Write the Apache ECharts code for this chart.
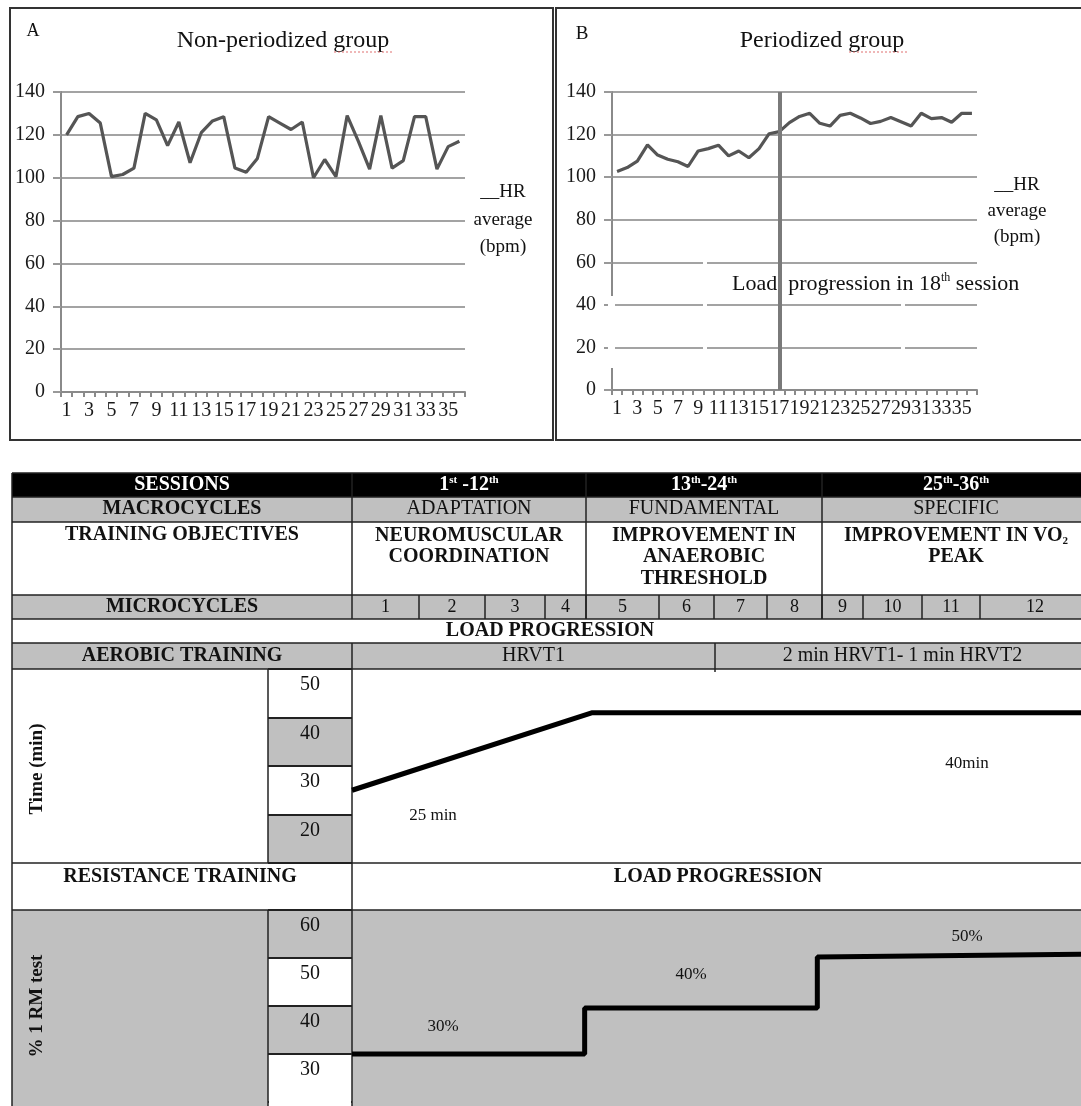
<!DOCTYPE html>
<html>
<head>
<meta charset="utf-8">
<script src="https://cdn.jsdelivr.net/npm/echarts@6/dist/echarts.min.js"></script>
<style>
  html, body { margin: 0; padding: 0; background: #fff; }
  #chart { width: 1081px; height: 1106px; }
</style>
</head>
<body>
<div id="chart"></div>
<script>
// ── Data ─────────────────────────────────────────────────────────────────────
const sessions = ['1','2','3','4','5','6','7','8','9','10','11','12','13','14','15','16','17','18',
                  '19','20','21','22','23','24','25','26','27','28','29','30','31','32','33','34','35','36'];
const hrNonPeriodized = [120, 128.5, 130, 125.5, 100.5, 101.5, 104.5, 130, 127, 115, 126, 107,
                         121, 126.5, 128.5, 104.5, 102.5, 109, 128.5, 125.5, 122.5, 126, 100, 108.5,
                         100.5, 129, 117, 104, 129, 104.5, 108, 128.5, 128.5, 104, 114.5, 117];
const hrPeriodized = [102.7, 104.5, 107.5, 115.2, 110.4, 108.4, 107.2, 105, 112.3, 113.4, 115, 110,
                      112.3, 109.1, 113.4, 120.4, 121.4, 125.6, 128.5, 130, 125.3, 124, 129, 130,
                      127.8, 125.2, 126.2, 128, 126, 124, 130, 127.5, 128, 125.8, 130, 130];
const loadChangeSession = '17';

const sessionRanges = [['1', 'st', ' -12', 'th'], ['13', 'th', '-24', 'th'], ['25', 'th', '-36', 'th']];
const macrocycles = ['ADAPTATION', 'FUNDAMENTAL', 'SPECIFIC'];
const objectives = [
  '{m|NEUROMUSCULAR}\n{m|COORDINATION}',
  '{m|IMPROVEMENT IN}\n{m|ANAEROBIC}\n{m|THRESHOLD}',
  '{m|IMPROVEMENT IN VO}{u|2}\n{m|PEAK}'
];
const microcycles = ['1','2','3','4','5','6','7','8','9','10','11','12'];
const aerobicIntensity = ['HRVT1', '2 min HRVT1- 1 min HRVT2'];

// session (x) , minutes (y)
const aerobicTime = [[0, 25], [12.4, 41], [37.6, 41]];
const aerobicNotes = ['25 min', '40min'];
// session (x) , % 1RM (y)
const resistanceLoad = [[0, 30], [12, 30], [12, 39.6], [24, 39.6], [24, 50.2], [37.6, 50.8]];
const resistanceNotes = ['30%', '40%', '50%'];

// ── Layout ───────────────────────────────────────────────────────────────────
const FONT = 'Liberation Serif';
const GRAY = '#c0c0c0';
const X0 = 12, XL = 268, XS = 352, XE = 1090;
const macroX = [352, 586, 822, 1090];
const microX = [352, 419, 485, 545, 586, 659, 714, 767, 822, 863, 922, 980, 1090];
const intensityX = [352, 715, 1090];
const R = { head: 473, macro: 497, obj: 522, micro: 595, load: 619, aer: 643, time: 669, res: 863, pct: 910, end: 1108 };

function T(x, y, text, o = {}) {
  return {
    type: 'text', x: x, y: y, z: o.z || 20, rotation: o.rot || 0,
    style: {
      text: text, fill: o.color || '#111', fontFamily: FONT,
      fontSize: o.size || 20, fontWeight: o.bold ? 'bold' : 'normal',
      align: o.align || 'center', verticalAlign: o.va || 'middle',
      lineHeight: o.lh, rich: o.rich
    }
  };
}
function box(x, y, w, h, fill, z) {
  return { type: 'rect', z: z == null ? -5 : z, shape: { x: x, y: y, width: w, height: h }, style: { fill: fill } };
}
function ln(x1, y1, x2, y2, w, c, z) {
  return { type: 'line', z: z || 10, shape: { x1: x1, y1: y1, x2: x2, y2: y2 },
           style: { stroke: c || '#222', lineWidth: w || 1.5 } };
}
const mid = (a, i) => (a[i] + a[i + 1]) / 2;

const g = [];
// panels
g.push({ type: 'rect', z: 10, shape: { x: 10, y: 8, width: 543, height: 432 }, style: { fill: null, stroke: '#333', lineWidth: 2 } });
g.push({ type: 'rect', z: 10, shape: { x: 556, y: 8, width: 540, height: 432 }, style: { fill: null, stroke: '#333', lineWidth: 2 } });
g.push(T(33, 31, 'A', { size: 18 }));
g.push(T(283, 41, 'Non-periodized group', { size: 24 }));
g.push(T(582, 34, 'B', { size: 19 }));
g.push(T(822, 41, 'Periodized group', { size: 24 }));
g.push({ type: 'line', z: 21, shape: { x1: 334, y1: 52, x2: 393, y2: 52 }, style: { stroke: '#e07070', lineWidth: 1, lineDash: [2, 2] } });
g.push({ type: 'line', z: 21, shape: { x1: 849, y1: 52, x2: 908, y2: 52 }, style: { stroke: '#e07070', lineWidth: 1, lineDash: [2, 2] } });
[['__HR', 192], ['average', 220], ['(bpm)', 247]].forEach(d => g.push(T(503, d[1], d[0], { size: 19 })));
[['__HR', 185], ['average', 211], ['(bpm)', 237]].forEach(d => g.push(T(1017, d[1], d[0], { size: 19 })));
// text box artefacts in panel B
g.push(box(608, 296, 7, 72, '#fff', 5));
g.push(box(703, 258, 4, 96, '#fff', 5));
g.push(box(901, 300, 4, 54, '#fff', 5));
g.push(T(732, 284, '{n|Load  progression in 18}{s|th}{n| session}', {
  align: 'left', z: 6,
  rich: { n: { fontFamily: FONT, fontSize: 22, lineHeight: 24, fill: '#111' },
          s: { fontFamily: FONT, fontSize: 12, lineHeight: 24, fill: '#111', verticalAlign: 'top' } }
}));

// table backgrounds
g.push(box(X0, R.head, XE - X0, R.macro - R.head, '#000'));
g.push(box(X0, R.macro, XE - X0, R.obj - R.macro, GRAY));
g.push(box(X0, R.micro, XE - X0, R.load - R.micro, GRAY));
g.push(box(X0, R.aer, XE - X0, R.time - R.aer, GRAY));
g.push(box(X0, R.pct, XL - X0, R.end - R.pct, GRAY));
g.push(box(XS, R.pct, XE - XS, R.end - R.pct, GRAY));
g.push(box(XL + 1, R.end - 7, XS - XL - 2, 8, '#fff', 8));

// table rules
[R.head, R.macro, R.obj, R.micro, R.load, R.aer, R.time, R.res, R.pct].forEach(y => g.push(ln(X0, y, XE, y)));
g.push(ln(X0, R.head, X0, R.end));
g.push(ln(XS, R.head, XS, R.load));
g.push(ln(XS, R.aer, XS, R.end));
macroX.slice(1, -1).forEach(x => g.push(ln(x, R.head, x, R.load)));
microX.slice(1, -1).forEach(x => g.push(ln(x, R.micro, x, R.load)));
g.push(ln(intensityX[1], R.aer, intensityX[1], R.time + 3));
g.push(ln(XL, R.time, XL, R.res));
g.push(ln(XL, R.pct, XL, R.end));

// table texts
const hdRich = {
  b: { fontFamily: FONT, fontSize: 20, fontWeight: 'bold', fill: '#fff', lineHeight: 20 },
  s: { fontFamily: FONT, fontSize: 11, fontWeight: 'bold', fill: '#fff', lineHeight: 20, verticalAlign: 'top' }
};
g.push(T(182, 485, 'SESSIONS', { bold: true, color: '#fff' }));
sessionRanges.forEach((r, i) => g.push(T(mid(macroX, i), 485, `{b|${r[0]}}{s|${r[1]}}{b|${r[2]}}{s|${r[3]}}`, { rich: hdRich })));
g.push(T(182, 509, 'MACROCYCLES', { bold: true }));
macrocycles.forEach((m, i) => g.push(T(mid(macroX, i), 509, m)));
g.push(T(182, 535, 'TRAINING OBJECTIVES', { bold: true }));
const objRich = {
  m: { fontFamily: FONT, fontSize: 20, fontWeight: 'bold', lineHeight: 21.5, fill: '#111' },
  u: { fontFamily: FONT, fontSize: 11, fontWeight: 'bold', lineHeight: 21.5, fill: '#111', verticalAlign: 'bottom' }
};
objectives.forEach((o, i) => g.push(T(mid(macroX, i), 525, o, { va: 'top', rich: objRich })));
g.push(T(182, 607, 'MICROCYCLES', { bold: true }));
microcycles.forEach((m, i) => g.push(T(mid(microX, i), 607, m, { size: 18 })));
g.push(T(550, 631, 'LOAD PROGRESSION', { bold: true }));
g.push(T(182, 656, 'AEROBIC TRAINING', { bold: true }));
aerobicIntensity.forEach((a, i) => g.push(T(mid(intensityX, i), 656, a)));
g.push(T(37, 769, 'Time (min)', { bold: true, size: 19, rot: Math.PI / 2 }));
g.push(T(180, 877, 'RESISTANCE TRAINING', { bold: true }));
g.push(T(718, 877, 'LOAD PROGRESSION', { bold: true }));
g.push(T(37, 1006, '% 1 RM test', { bold: true, size: 19, rot: Math.PI / 2 }));
g.push(T(433, 816, aerobicNotes[0], { size: 17 }));
g.push(T(967, 764, aerobicNotes[1], { size: 17 }));
g.push(T(443, 1027, resistanceNotes[0], { size: 17 }));
g.push(T(691, 975, resistanceNotes[1], { size: 17 }));
g.push(T(967, 937, resistanceNotes[2], { size: 17 }));

// ── Axes ─────────────────────────────────────────────────────────────────────
const axisGray = '#8a8a8a';
const hrX = (grid) => ({
  type: 'category', gridIndex: grid, data: sessions, boundaryGap: true,
  axisLine: { lineStyle: { color: axisGray, width: 2 } },
  axisTick: { show: true, interval: 0, length: 5, lineStyle: { color: axisGray, width: 2 } },
  axisLabel: { interval: 1, fontFamily: FONT, fontSize: 20, color: '#1a1a1a', margin: 9 }
});
const hrY = (grid) => ({
  type: 'value', gridIndex: grid, min: 0, max: 140, interval: 20,
  axisLine: { show: true, lineStyle: { color: axisGray, width: 2 } },
  axisTick: { show: true, length: 8, lineStyle: { color: '#999', width: 2 } },
  axisLabel: { fontFamily: FONT, fontSize: 20, color: '#1a1a1a', margin: 16 },
  splitLine: { lineStyle: { color: '#a3a3a3', width: 2 } }
});
const hiddenX = (grid, max) => ({ type: 'value', gridIndex: grid, min: 0, max: max, show: false });
const scaleY = (grid, min, max, colors) => ({
  type: 'value', gridIndex: grid, min: min, max: max, interval: 10,
  axisLine: { show: false }, axisTick: { show: false },
  splitLine: { show: true, lineStyle: { color: '#222', width: 2 } },
  splitArea: { show: true, areaStyle: { color: colors } },
  axisLabel: { inside: true, showMinLabel: false, align: 'center', verticalAlign: 'top',
               margin: 42, padding: [6, 0, 0, 0], fontFamily: FONT, fontSize: 20, color: '#111' }
});
const hiddenY = (grid, min, max) => ({ type: 'value', gridIndex: grid, min: min, max: max, show: false });

const option = {
  backgroundColor: '#fff',
  animation: false,
  textStyle: { fontFamily: FONT },
  graphic: g,
  grid: [
    { left: 61, top: 92, width: 404, height: 300 },
    { left: 612, top: 92, width: 365, height: 298 },
    { left: XL, top: R.time, width: XS - XL, height: R.res - R.time },
    { left: XS, top: R.time, width: 736, height: R.res - R.time },
    { left: XL, top: R.pct, width: XS - XL, height: 192 },
    { left: XS, top: R.pct, width: 736, height: 192 }
  ],
  xAxis: [hrX(0), hrX(1), hiddenX(2, 1), hiddenX(3, 37.6), hiddenX(4, 1), hiddenX(5, 37.6)],
  yAxis: [hrY(0), hrY(1),
          scaleY(2, 10, 50, [GRAY, '#ffffff']), hiddenY(3, 10, 50),
          scaleY(4, 20, 60, ['#ffffff', GRAY]), hiddenY(5, 20, 60)],
  series: [
    { type: 'line', xAxisIndex: 0, yAxisIndex: 0, data: hrNonPeriodized, symbol: 'none',
      lineStyle: { color: '#555', width: 3.2 } },
    { type: 'line', xAxisIndex: 1, yAxisIndex: 1, data: hrPeriodized, symbol: 'none',
      lineStyle: { color: '#555', width: 3.2 },
      markLine: { symbol: 'none', silent: true, label: { show: false },
                  lineStyle: { color: '#7a7a7a', width: 4, type: 'solid' },
                  data: [{ xAxis: loadChangeSession }] } },
    { type: 'line', xAxisIndex: 3, yAxisIndex: 3, data: aerobicTime, symbol: 'none', z: 12, clip: false,
      lineStyle: { color: '#000', width: 5 } },
    { type: 'line', xAxisIndex: 5, yAxisIndex: 5, data: resistanceLoad, symbol: 'none', z: 12, clip: false,
      lineStyle: { color: '#000', width: 5 } }
  ]
};

const chart = echarts.init(document.getElementById('chart'));
chart.setOption(option);
</script>
</body>
</html>
